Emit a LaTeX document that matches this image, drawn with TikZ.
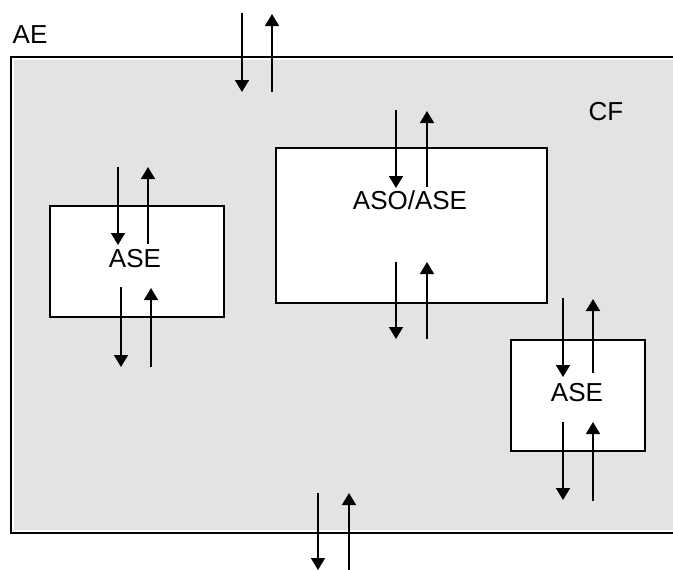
\documentclass[tikz,border=0pt]{standalone}
\usepackage{fontspec}
\setmainfont{Liberation Sans}
\usetikzlibrary{arrows.meta}
\definecolor{cfgray}{RGB}{227,227,227}

\begin{document}
\begin{tikzpicture}[
  x=1pt, y=-1pt,
  box/.style={rectangle, draw, line width=1.4pt, fill=white, inner sep=0pt},
  lbl/.style={font=\fontsize{26}{30}\selectfont, inner sep=0pt, anchor=base},
  flow/.style={line width=1.6pt, -{Triangle[width=14pt,length=12pt]}}
]
  \useasboundingbox (0,0) rectangle (673,570);
  % CF frame
  \draw[line width=1.4pt] (11,57) rectangle (690,533);
  \fill[cfgray] (14,60) rectangle (673,530);

  \node[lbl] (ae) at (30,43) {AE};
  \node[lbl] (cf) at (606,120) {CF};

  \node[box, minimum width=174pt, minimum height=111pt] (ase1) at (137,261.5) {};
  \node[box, minimum width=271pt, minimum height=155pt] (aso) at (411.5,225.5) {};
  \node[box, minimum width=134pt, minimum height=111pt] (ase2) at (578,395.5) {};

  \node[lbl] (ase1l) at (135,267) {ASE};
  \node[lbl] (asol) at (410,209) {ASO/ASE};
  \node[lbl] (ase2l) at (577,401) {ASE};

  % arrow ends
  \coordinate (a1) at (242,13);  \coordinate (a2) at (242,92);  \coordinate (a3) at (272,92);  \coordinate (a4) at (272,14);
  \coordinate (b1) at (118,167); \coordinate (b2) at (118,245); \coordinate (b3) at (148,244); \coordinate (b4) at (148,167);
  \coordinate (c1) at (121,287); \coordinate (c2) at (121,367); \coordinate (c3) at (151,367); \coordinate (c4) at (151,288);
  \coordinate (d1) at (396,110); \coordinate (d2) at (396,188); \coordinate (d3) at (427,187); \coordinate (d4) at (427,111);
  \coordinate (e1) at (396,262); \coordinate (e2) at (396,339); \coordinate (e3) at (427,339); \coordinate (e4) at (427,262);
  \coordinate (f1) at (563,298); \coordinate (f2) at (563,377); \coordinate (f3) at (593,373); \coordinate (f4) at (593,299);
  \coordinate (g1) at (563,422); \coordinate (g2) at (563,500); \coordinate (g3) at (593,501); \coordinate (g4) at (593,422);
  \coordinate (h1) at (318,493); \coordinate (h2) at (318,570); \coordinate (h3) at (349,570); \coordinate (h4) at (349,493);

  \draw[flow] (a1) -- (a2); \draw[flow] (a3) -- (a4);
  \draw[flow] (b1) -- (b2); \draw[flow] (b3) -- (b4);
  \draw[flow] (c1) -- (c2); \draw[flow] (c3) -- (c4);
  \draw[flow] (d1) -- (d2); \draw[flow] (d3) -- (d4);
  \draw[flow] (e1) -- (e2); \draw[flow] (e3) -- (e4);
  \draw[flow] (f1) -- (f2); \draw[flow] (f3) -- (f4);
  \draw[flow] (g1) -- (g2); \draw[flow] (g3) -- (g4);
  \draw[flow] (h1) -- (h2); \draw[flow] (h3) -- (h4);
\end{tikzpicture}
\end{document}
